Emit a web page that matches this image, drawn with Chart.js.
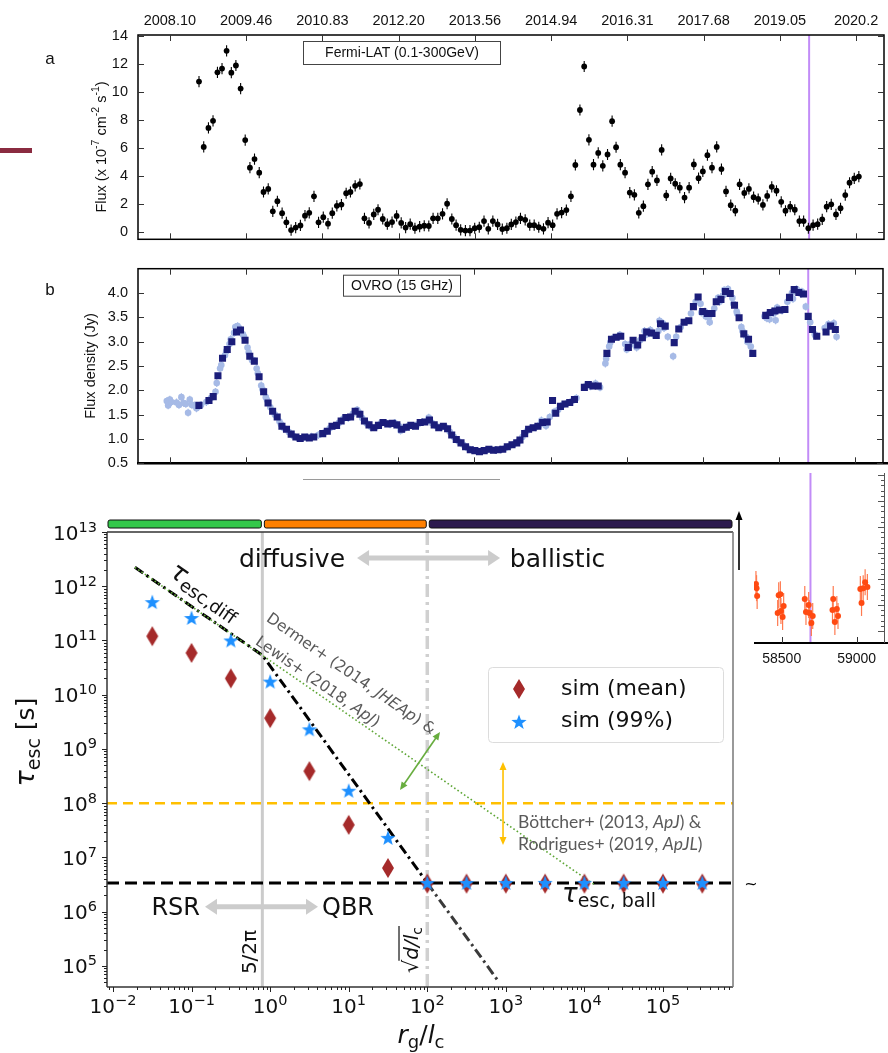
<!DOCTYPE html>
<html>
<head>
<meta charset="utf-8">
<script src="https://cdn.jsdelivr.net/npm/chart.js@4.4.1/dist/chart.umd.min.js"></script>
<style>
  html, body { margin: 0; padding: 0; background: #fff; width: 888px; height: 1053px; overflow: hidden; }
  .pane { position: absolute; }
  canvas { display: block; }
</style>
</head>
<body>
<div class="pane" style="left:0px;top:0px"><canvas id="cA" width="888" height="258"></canvas></div>
<div class="pane" style="left:0px;top:250px"><canvas id="cB" width="888" height="232"></canvas></div>
<div class="pane" style="left:740px;top:460px"><canvas id="cC" width="148" height="220"></canvas></div>
<div class="pane" style="left:0px;top:478px"><canvas id="cD" width="760" height="575"></canvas></div>
<script>
// ---------- time axis (MJD) shared by the light-curve panels ----------
const X_MIN = 54291, X_MAX = 59183;
const MJD_TICKS = [54500, 55000, 55500, 56000, 56500, 57000, 57500, 58000, 58500, 59000];
const YEAR_LABELS = ['2008.10', '2009.46', '2010.83', '2012.20', '2013.56', '2014.94', '2016.31', '2017.68', '2019.05', '2020.2'];
const MARK_MJD = 58692;

// ---------- Fermi-LAT monthly flux (1e-7 ph cm^-2 s^-1) ----------
const FERMI_MJD = [
  54691, 54722, 54753, 54783, 54812, 54842, 54872, 54903, 54933, 54964,
  54994, 55025, 55055, 55086, 55114, 55145, 55175, 55205, 55236, 55264,
  55295, 55325, 55356, 55386, 55414, 55445, 55475, 55506, 55537, 55565,
  55595, 55625, 55656, 55684, 55715, 55746, 55776, 55806, 55837, 55865,
  55896, 55926, 55957, 55987, 56017, 56046, 56076, 56107, 56138, 56168,
  56198, 56226, 56257, 56288, 56318, 56349, 56377, 56407, 56438, 56468,
  56499, 56529, 56560, 56588, 56618, 56649, 56680, 56710, 56739, 56769,
  56799, 56830, 56860, 56889, 56919, 56950, 56980, 57010, 57039, 57069,
  57100, 57130, 57159, 57189, 57217, 57248, 57278, 57309, 57339, 57370,
  57400, 57426, 57454, 57485, 57516, 57546, 57575, 57605, 57635, 57663,
  57694, 57725, 57755, 57784, 57814, 57844, 57875, 57905, 57936, 57967,
  57995, 58025, 58055, 58086, 58117, 58147, 58178, 58208, 58236, 58267,
  58297, 58328, 58358, 58389, 58417, 58447, 58478, 58509, 58537, 58568,
  58598, 58628, 58656, 58687, 58718, 58748, 58778, 58807, 58837, 58868,
  58898, 58929, 58957, 58988, 59018];
const FERMI_FLUX = [
  10.74, 6.07, 7.43, 7.94, 11.4, 11.67, 12.94, 11.38, 11.89, 10.24,
  6.56, 4.59, 5.2, 4.23, 2.85, 3.07, 1.47, 2.19, 1.34, 0.68,
  0.13, 0.31, 0.46, 1.16, 1.36, 2.54, 0.68, 1.05, 0.59, 1.34,
  1.86, 1.95, 2.76, 2.85, 3.29, 3.42, 0.97, 0.64, 1.25, 1.58,
  0.92, 0.55, 0.70, 1.14, 0.64, 0.31, 0.55, 0.26, 0.37, 0.44,
  0.42, 0.97, 0.97, 1.29, 2.01, 0.92, 0.48, 0.15, 0.09, 0.09,
  0.26, 0.33, 0.77, 0.22, 0.77, 0.53, 0.20, 0.26, 0.53, 0.70,
  0.97, 0.86, 0.48, 0.48, 0.33, 0.22, 0.66, 0.48, 1.29, 1.38,
  1.56, 2.54, 4.78, 8.71, 11.82, 6.58, 4.8, 5.64, 4.72, 5.53,
  7.91, 6.05, 4.8, 4.23, 2.81, 2.65, 1.36, 1.84, 3.4, 4.3,
  3.68, 5.86, 2.6, 3.82, 3.44, 3.16, 2.45, 3.16, 4.82, 3.84,
  4.32, 5.48, 4.59, 6.07, 4.49, 2.89, 1.91, 1.51, 3.4, 2.78,
  3.07, 2.48, 2.35, 1.93, 2.57, 3.22, 2.94, 2.15, 1.51, 1.80,
  1.58, 0.77, 0.77, 0.26, 0.48, 0.55, 0.9, 1.80, 1.97, 1.25,
  1.69, 2.63, 3.51, 3.82, 3.95];
const FERMI_ERR = 0.4;
const FERMI_YTICKS = [0, 2, 4, 6, 8, 10, 12, 14];

// ---------- OVRO 15 GHz: binned (squares) ----------
const OVRO_BIN_MJD = [
  54691, 54757, 54785, 54816, 54846, 54877, 54907, 54938, 54964, 54994,
  55025, 55055, 55086, 55116, 55145, 55175, 55205, 55236, 55266, 55297,
  55328, 55356, 55386, 55416, 55445, 55504, 55534, 55565, 55595, 55625,
  55656, 55687, 55717, 55748, 55778, 55808, 55839, 55870, 55900, 55931,
  55961, 55991, 56022, 56053, 56083, 56113, 56144, 56174, 56205, 56236,
  56266, 56296, 56324, 56351, 56381, 56412, 56442, 56473, 56503, 56533,
  56564, 56595, 56625, 56656, 56686, 56716, 56747, 56778, 56799, 56830,
  56856, 56886, 56917, 56948, 56978, 57013, 57034, 57065, 57095, 57126,
  57157, 57222, 57248, 57278, 57313, 57370, 57400, 57431, 57461, 57511,
  57542, 57572, 57603, 57631, 57663, 57694, 57722, 57753, 57812, 57842,
  57877, 57908, 57938, 57969, 57999, 58029, 58060, 58088, 58119, 58149,
  58180, 58208, 58238, 58269, 58300, 58328, 58413, 58443, 58473, 58504,
  58539, 58569, 58600, 58630, 58661, 58692, 58720, 58748, 58809, 58839,
  58870];
const OVRO_BIN_FLUX = [
  1.69, 1.79, 1.87, 2.30, 2.66, 2.84, 3.00, 3.20, 3.24, 3.03,
  2.70, 2.60, 2.28, 1.97, 1.74, 1.57, 1.45, 1.26, 1.20, 1.10,
  1.04, 1.01, 1.04, 1.02, 1.04, 1.11, 1.16, 1.26, 1.28, 1.37,
  1.44, 1.45, 1.57, 1.51, 1.37, 1.29, 1.23, 1.28, 1.34, 1.31,
  1.32, 1.29, 1.20, 1.24, 1.28, 1.26, 1.34, 1.35, 1.39, 1.29,
  1.23, 1.26, 1.21, 1.08, 0.99, 0.92, 0.84, 0.78, 0.76, 0.74,
  0.76, 0.79, 0.77, 0.78, 0.79, 0.84, 0.88, 0.92, 0.98, 1.11,
  1.20, 1.23, 1.26, 1.34, 1.35, 1.79, 1.53, 1.67, 1.72, 1.75,
  1.81, 2.06, 2.12, 2.09, 2.09, 2.76, 3.05, 3.09, 3.11, 2.88,
  3.03, 2.93, 3.08, 3.20, 3.18, 3.13, 3.37, 3.32, 2.98, 3.26,
  3.40, 3.43, 3.72, 3.92, 3.62, 3.58, 3.58, 3.82, 3.87, 4.03,
  3.99, 3.75, 3.49, 3.16, 3.05, 2.76, 3.54, 3.60, 3.63, 3.65,
  3.66, 3.91, 4.07, 4.01, 3.98, 3.52, 3.25, 3.11, 3.20, 3.32,
  3.25];

// ---------- OVRO 15 GHz: individual measurements ----------
const OVRO_RAW_MJD = [
  54480, 54489, 54500, 54510, 54544, 54560, 54576, 54590, 54605, 54620,
  54631, 54645, 54663, 54675, 54685, 54705, 54740, 54770, 54800, 54808,
  54830, 54838, 54862, 54870, 54892, 54900, 54922, 54930, 54945, 54955,
  54980, 54987, 55010, 55018, 55040, 55048, 55070, 55078, 55100, 55108,
  55130, 55138, 55160, 55190, 55220, 55230, 55250, 55282, 55312, 55342,
  55371, 55400, 55430, 55475, 55490, 55520, 55550, 55580, 55610, 55640,
  55672, 55702, 55730, 55740, 55763, 55793, 55823, 55855, 55885, 55915,
  55946, 55976, 56006, 56015, 56038, 56068, 56098, 56128, 56159, 56190,
  56200, 56220, 56251, 56281, 56310, 56338, 56366, 56396, 56427, 56457,
  56488, 56518, 56548, 56580, 56610, 56640, 56671, 56701, 56731, 56762,
  56790, 56815, 56843, 56871, 56901, 56932, 56940, 56963, 56970, 56995,
  57024, 57050, 57080, 57110, 57141, 57170, 57235, 57263, 57295, 57325,
  57360, 57365, 57385, 57392, 57415, 57446, 57455, 57490, 57500, 57525,
  57557, 57565, 57588, 57617, 57625, 57647, 57655, 57678, 57708, 57715,
  57737, 57745, 57770, 57805, 57825, 57855, 57890, 57922, 57953, 57985,
  57990, 58014, 58020, 58040, 58045, 58075, 58100, 58110, 58132, 58140,
  58160, 58165, 58194, 58200, 58222, 58225, 58253, 58260, 58285, 58292,
  58315, 58405, 58420, 58430, 58438, 58458, 58465, 58478, 58488, 58495,
  58520, 58555, 58585, 58592, 58615, 58623, 58645, 58650, 58676, 58705,
  58735, 58740, 58800, 58825, 58852, 58860, 58878];
const OVRO_RAW_FLUX = [
  1.78, 1.69, 1.81, 1.76, 1.75, 1.70, 1.86, 1.74, 1.72, 1.54,
  1.81, 1.70, 1.69, 1.63, 1.66, 1.70, 1.76, 1.84, 1.97, 2.15,
  2.45, 2.52, 2.72, 2.80, 2.95, 3.05, 3.18, 3.30, 3.32, 3.28,
  3.15, 3.10, 2.88, 2.78, 2.62, 2.62, 2.45, 2.35, 2.10, 2.02,
  1.86, 1.80, 1.65, 1.50, 1.36, 1.30, 1.22, 1.14, 1.06, 1.02,
  1.02, 1.03, 1.05, 1.08, 1.10, 1.14, 1.22, 1.27, 1.33, 1.42,
  1.43, 1.52, 1.60, 1.55, 1.43, 1.32, 1.24, 1.25, 1.32, 1.33,
  1.30, 1.33, 1.26, 1.17, 1.21, 1.27, 1.27, 1.30, 1.35, 1.37,
  1.44, 1.33, 1.26, 1.24, 1.24, 1.15, 1.04, 0.95, 0.88, 0.81,
  0.77, 0.75, 0.75, 0.77, 0.78, 0.77, 0.78, 0.81, 0.86, 0.90,
  0.95, 1.04, 1.16, 1.22, 1.24, 1.30, 1.38, 1.35, 1.27, 1.45,
  1.56, 1.60, 1.70, 1.74, 1.78, 1.84, 2.10, 2.08, 2.14, 2.06,
  2.55, 2.65, 2.90, 2.98, 3.08, 3.10, 3.14, 2.95, 2.84, 2.95,
  2.92, 2.88, 3.03, 3.22, 3.14, 3.17, 3.24, 3.15, 3.22, 3.43,
  3.38, 3.28, 3.10, 2.70, 3.10, 3.30, 3.42, 3.58, 3.82, 3.78,
  3.60, 3.62, 3.52, 3.50, 3.40, 3.68, 3.90, 3.82, 3.95, 4.06,
  4.00, 4.08, 3.90, 3.78, 3.62, 3.58, 3.30, 3.22, 3.10, 3.00,
  2.90, 3.52, 3.48, 3.57, 3.46, 3.62, 3.58, 3.44, 3.70, 3.66,
  3.64, 3.82, 4.00, 3.88, 4.08, 4.05, 3.98, 4.03, 3.72, 3.40,
  3.15, 3.12, 3.28, 3.36, 3.33, 3.38, 3.10];
const OVRO_RAW_ERR = 0.08;
const OVRO_YTICKS = [0.5, 1.0, 1.5, 2.0, 2.5, 3.0, 3.5, 4.0];

// ---------- inset light curve (arbitrary units) ----------
const INSET_MJD = [58328, 58332, 58336, 58473, 58480, 58491, 58495, 58506, 58513, 58654,
  58662, 58680, 58685, 58698, 58707, 58839, 58844, 58855, 58868, 58876,
  59025, 59033, 59044, 59057, 59072];
const INSET_VAL = [1.81, 1.65, 1.35, 0.69, 1.38, 1.42, 0.77, 0.54, 0.96, 1.23,
  0.73, 1.00, 0.69, 0.31, 0.58, 0.81, 1.23, 0.35, 0.85, 0.58,
  1.62, 1.08, 1.65, 1.88, 1.69];
const INSET_ERR = 0.5;

// ---------- escape time vs rigidity ----------
const RG_OVER_LC = [0.0316, 0.1, 0.316, 1, 3.16, 10, 31.6, 100, 316, 1000, 3160, 1e4, 3.16e4, 1e5, 3.16e5];
const TAU_SIM_MEAN = [1.2e11, 5.9e10, 2.0e10, 3.7e9, 3.9e8, 4.0e7, 6.4e6, 3.3e6, 3.3e6, 3.3e6, 3.3e6, 3.3e6, 3.3e6, 3.3e6, 3.3e6];
const TAU_SIM_99 = [5.1e11, 2.6e11, 1.0e11, 1.75e10, 2.3e9, 1.7e8, 2.3e7, 3.4e6, 3.4e6, 3.4e6, 3.4e6, 3.4e6, 3.4e6, 3.4e6, 3.4e6];
const TAU_DIFF_X = [0.019, 0.796, 100];
const TAU_DIFF_Y = [2.23e12, 5.35e10, 3.4e6];
const TAU_DIFF_EXT_X = [100, 776];
const TAU_DIFF_EXT_Y = [3.4e6, 5.6e4];
const LIT_DIFF_X = [0.019, 13200];
const LIT_DIFF_Y = [2.23e12, 3.2e6];
const TAU_BALL = 3.4e6;
const LIT_BALL = 1e8;
const RSR_QBR_EDGE = 0.796;   // 5/2pi
const SQRT_D_LC = 100;
const RG_MIN = 0.00839, RG_MAX = 7.78e5, TAU_MIN = 4.1e4, TAU_MAX = 1e13;

// ---------- helpers ----------
const VIOLET = '#c28cf7';
const SANS = '"Liberation Sans", Arial, sans-serif';
const DJ = '"DejaVu Sans", sans-serif';
Chart.defaults.font.family = SANS;
Chart.defaults.color = '#111';

function line(ctx, x1, y1, x2, y2) { ctx.beginPath(); ctx.moveTo(x1, y1); ctx.lineTo(x2, y2); ctx.stroke(); }
function rich(ctx, parts, x, y, align) {
  ctx.textAlign = 'left';
  let w = 0;
  const ws = parts.map(p => { ctx.font = p[1]; const m = ctx.measureText(p[0]).width; w += m; return m; });
  let cx = align === 'center' ? x - w / 2 : align === 'right' ? x - w : x;
  parts.forEach((p, i) => { ctx.font = p[1]; ctx.fillText(p[0], cx, y + (p[2] || 0)); cx += ws[i]; });
  return w;
}
function head(ctx, x, y, ang, len, wid) {
  const c = Math.cos(ang), s = Math.sin(ang);
  ctx.beginPath(); ctx.moveTo(x, y);
  ctx.lineTo(x - len * c + wid / 2 * s, y - len * s - wid / 2 * c);
  ctx.lineTo(x - len * c - wid / 2 * s, y - len * s + wid / 2 * c);
  ctx.closePath(); ctx.fill();
}
function dblArrow(ctx, x1, y1, x2, y2, lw, len, wid, col) {
  const ang = Math.atan2(y2 - y1, x2 - x1), c = Math.cos(ang), s = Math.sin(ang);
  ctx.strokeStyle = col; ctx.fillStyle = col; ctx.lineWidth = lw;
  line(ctx, x1 + len * 0.8 * c, y1 + len * 0.8 * s, x2 - len * 0.8 * c, y2 - len * 0.8 * s);
  head(ctx, x2, y2, ang, len, wid); head(ctx, x1, y1, ang + Math.PI, len, wid);
}
function diamondPath(g, cx, cy, w, h) { g.beginPath(); g.moveTo(cx, cy - h / 2); g.lineTo(cx + w / 2, cy); g.lineTo(cx, cy + h / 2); g.lineTo(cx - w / 2, cy); g.closePath(); }
function starPath(g, cx, cy, R, r) { g.beginPath(); for (let i = 0; i < 10; i++) { const a = -Math.PI / 2 + i * Math.PI / 5, rr = i % 2 ? r : R; g.lineTo(cx + rr * Math.cos(a), cy + rr * Math.sin(a)); } g.closePath(); }
function markerCanvas(w, h, draw) { const cv = document.createElement('canvas'); cv.width = w; cv.height = h; draw(cv.getContext('2d')); return cv; }
const DIAMOND = markerCanvas(14, 22, g => { g.fillStyle = '#a52a2a'; diamondPath(g, 7, 11, 12, 20); g.fill(); });
const STAR = markerCanvas(18, 18, g => { g.fillStyle = '#1e90ff'; starPath(g, 9, 9.6, 8, 3.3); g.fill(); });

// inward ticks and frame for the light-curve panels
function lcFrame(c, yTicks, bottomWidth) {
  const { ctx, chartArea: a, scales: { x, y } } = c;
  ctx.save();
  ctx.strokeStyle = '#000'; ctx.lineWidth = 1.5;
  ctx.strokeRect(a.left, a.top, a.right - a.left, a.bottom - a.top);
  if (bottomWidth) { ctx.lineWidth = bottomWidth; line(ctx, a.left - 1, a.bottom, c.width, a.bottom); }
  ctx.strokeStyle = '#333'; ctx.lineWidth = 1;
  MJD_TICKS.forEach(t => {
    const px = Math.round(x.getPixelForValue(t)) + 0.5;
    line(ctx, px, a.top, px, a.top + 6); line(ctx, px, a.bottom, px, a.bottom - 6);
  });
  yTicks.forEach(v => {
    const py = Math.round(y.getPixelForValue(v)) + 0.5;
    line(ctx, a.left, py, a.left + 6, py); line(ctx, a.right, py, a.right - 6, py);
  });
  ctx.restore();
}
function markLine(c) {
  const { ctx, chartArea: a, scales: { x } } = c;
  const vx = x.getPixelForValue(MARK_MJD);
  ctx.save(); ctx.strokeStyle = VIOLET; ctx.lineWidth = 2; line(ctx, vx, a.top, vx, a.bottom); ctx.restore();
}
function errBars(c, xs, ys, err, col, lw) {
  const { ctx, chartArea: a, scales: { x, y } } = c;
  ctx.save(); ctx.beginPath(); ctx.rect(a.left, a.top, a.right - a.left, a.bottom - a.top); ctx.clip();
  ctx.strokeStyle = col; ctx.lineWidth = lw;
  xs.forEach((t, i) => { const px = x.getPixelForValue(t); line(ctx, px, y.getPixelForValue(ys[i] - err), px, y.getPixelForValue(ys[i] + err)); });
  ctx.restore();
}
const baseOpts = { responsive: false, animation: false, events: [], plugins: { legend: { display: false }, tooltip: { enabled: false } } };
const noGrid = { display: false, drawTicks: false };

// ---------- panel a : Fermi-LAT ----------
new Chart(document.getElementById('cA'), {
  type: 'scatter',
  data: { datasets: [{ data: FERMI_MJD.map((t, i) => ({ x: t, y: FERMI_FLUX[i] })), pointRadius: 2.9, pointBackgroundColor: '#000', pointBorderWidth: 0 }] },
  options: { ...baseOpts, layout: { padding: { left: 0, right: 1, top: 0, bottom: 1 } },
    scales: {
      x: { type: 'linear', position: 'top', min: X_MIN, max: X_MAX,
        afterBuildTicks: s => { s.ticks = MJD_TICKS.map(v => ({ value: v })); },
        afterFit: s => { s.height = 35; },
        ticks: { callback: (v, i) => YEAR_LABELS[i], font: { size: 14.5 }, padding: 5, maxRotation: 0, autoSkip: false },
        grid: noGrid, border: { display: false } },
      y: { min: -0.53, max: 14.07,
        afterBuildTicks: s => { s.ticks = FERMI_YTICKS.map(v => ({ value: v })); },
        afterFit: s => { s.width = 138; },
        ticks: { font: { size: 14.5 }, padding: 10 },
        grid: noGrid, border: { display: false } } } },
  plugins: [{
    id: 'panelA',
    beforeDatasetsDraw(c) { markLine(c); errBars(c, FERMI_MJD, FERMI_FLUX, FERMI_ERR, '#000', 1.1); },
    afterDraw(c) {
      lcFrame(c, FERMI_YTICKS, 0);
      const ctx = c.ctx, a = c.chartArea;
      ctx.save();
      // band label
      ctx.strokeStyle = '#444'; ctx.lineWidth = 1; ctx.strokeRect(303.5, a.top + 6.5, 197, 23);
      ctx.fillStyle = '#111'; ctx.font = '14px ' + SANS; ctx.textAlign = 'center'; ctx.textBaseline = 'middle';
      ctx.fillText('Fermi-LAT (0.1-300GeV)', 402, a.top + 18.5);
      ctx.font = '17px ' + SANS; ctx.fillText('a', 50, 59);
      // axis title
      ctx.translate(106, 147); ctx.rotate(-Math.PI / 2); ctx.textBaseline = 'alphabetic';
      const f = '14.5px ' + SANS, fs = '10.5px ' + SANS;
      rich(ctx, [['Flux (x 10', f], ['-7', fs, -7], [' cm', f], ['-2', fs, -7], [' s', f], ['-1', fs, -7], [')', f]], 0, 0, 'center');
      ctx.restore();
      // short rule at the left margin
      ctx.save(); ctx.fillStyle = '#8a2b40'; ctx.fillRect(0, 148, 32, 5); ctx.restore();
    }
  }]
});

// ---------- panel b : OVRO ----------
new Chart(document.getElementById('cB'), {
  type: 'scatter',
  data: { datasets: [
    { data: OVRO_BIN_MJD.map((t, i) => ({ x: t, y: OVRO_BIN_FLUX[i] })), pointStyle: 'rect', pointRadius: 5, pointBackgroundColor: '#1b1d7a', pointBorderWidth: 0, order: 0 },
    { data: OVRO_RAW_MJD.map((t, i) => ({ x: t, y: OVRO_RAW_FLUX[i] })), pointRadius: 3.3, pointBackgroundColor: '#a6bae6', pointBorderWidth: 0, order: 1 }
  ] },
  options: { ...baseOpts, layout: { padding: { left: 0, right: 1, top: 7, bottom: 7 } },
    scales: {
      x: { type: 'linear', display: false, min: X_MIN, max: X_MAX },
      y: { min: 0.5, max: 4.5,
        afterBuildTicks: s => { s.ticks = OVRO_YTICKS.map(v => ({ value: v })); },
        afterFit: s => { s.width = 138; },
        ticks: { font: { size: 14.5 }, padding: 10, callback: v => Number(v).toFixed(1) },
        grid: noGrid, border: { display: false } } } },
  plugins: [{
    id: 'panelB',
    beforeDatasetsDraw(c) { markLine(c); errBars(c, OVRO_RAW_MJD, OVRO_RAW_FLUX, OVRO_RAW_ERR, '#a6bae6', 1.2); },
    afterDraw(c) {
      lcFrame(c, OVRO_YTICKS, 2.5);
      const ctx = c.ctx, a = c.chartArea;
      ctx.save();
      ctx.strokeStyle = '#444'; ctx.lineWidth = 1; ctx.strokeRect(343.5, a.top + 6.5, 117, 21);
      ctx.fillStyle = '#111'; ctx.font = '14px ' + SANS; ctx.textAlign = 'center'; ctx.textBaseline = 'middle';
      ctx.fillText('OVRO (15 GHz)', 402, a.top + 17);
      ctx.font = '17px ' + SANS; ctx.fillText('b', 50, a.top + 22);
      ctx.translate(95, (a.top + a.bottom) / 2); ctx.rotate(-Math.PI / 2); ctx.textBaseline = 'alphabetic';
      ctx.font = '14.5px ' + SANS; ctx.fillText('Flux density (Jy)', 0, 0);
      ctx.restore();
    }
  }]
});

// ---------- inset light curve ----------
new Chart(document.getElementById('cC'), {
  type: 'scatter',
  data: { datasets: [{ data: INSET_MJD.map((t, i) => ({ x: t, y: INSET_VAL[i] })), pointRadius: 3, pointBackgroundColor: '#ff4a12', pointBorderWidth: 0 }] },
  options: { ...baseOpts, layout: { padding: { left: 14, right: 1, top: 13, bottom: 0 } },
    scales: {
      x: { type: 'linear', position: 'bottom', min: 58315, max: X_MAX,
        afterBuildTicks: s => { s.ticks = [58500, 59000].map(v => ({ value: v })); },
        afterFit: s => { s.height = 37; },
        ticks: { font: { size: 14 }, padding: 8, maxRotation: 0, autoSkip: false, callback: v => String(v) },
        grid: noGrid, border: { display: false } },
      y: { display: false, min: -0.46, max: 6.08 } } },
  plugins: [{
    id: 'panelC',
    beforeDatasetsDraw(c) { markLine(c); errBars(c, INSET_MJD, INSET_VAL, INSET_ERR, '#ff7a50', 1.2); },
    afterDraw(c) {
      const { ctx, chartArea: a, scales: { x, y } } = c;
      ctx.save();
      ctx.strokeStyle = '#000'; ctx.lineWidth = 2; line(ctx, a.left, a.bottom, c.width, a.bottom);
      ctx.lineWidth = 1; ctx.strokeStyle = '#333';
      [58500, 59000].forEach(t => { const px = Math.round(x.getPixelForValue(t)) + 0.5; line(ctx, px, a.bottom, px, a.bottom - 6); });
      ctx.strokeStyle = '#555'; line(ctx, a.right + 0.5, a.top, a.right + 0.5, a.bottom);
      for (let k = 0; k <= 30; k++) {
        const v = k * 0.2; if (v > 6.05) break;
        const py = Math.round(y.getPixelForValue(v)) + 0.5;
        line(ctx, a.right, py, a.right - (k % 5 === 0 ? 6 : 3), py);
      }
      ctx.restore();
    }
  }]
});

// ---------- panel c : escape time ----------
const xy = (xs, ys) => xs.map((v, i) => ({ x: v, y: ys[i] }));
const lineDs = (data, col, w, dash, order) => ({ data, showLine: true, pointRadius: 0, borderColor: col, borderWidth: w, borderDash: dash, fill: false, tension: 0, order });
new Chart(document.getElementById('cD'), {
  type: 'scatter',
  data: { datasets: [
    lineDs([{ x: RSR_QBR_EDGE, y: TAU_MIN }, { x: RSR_QBR_EDGE, y: TAU_MAX }], '#cbcbcb', 3, [], 20),
    lineDs([{ x: SQRT_D_LC, y: TAU_MIN }, { x: SQRT_D_LC, y: TAU_MAX }], '#d0d0d0', 3.5, [13, 5, 3, 5], 19),
    lineDs([{ x: RG_MIN, y: LIT_BALL }, { x: RG_MAX, y: LIT_BALL }], '#ffbf00', 2.5, [10, 6], 18),
    lineDs([{ x: RG_MIN, y: TAU_BALL }, { x: RG_MAX, y: TAU_BALL }], '#000', 3, [12, 6], 17),
    lineDs(xy(TAU_DIFF_EXT_X, TAU_DIFF_EXT_Y), '#3a3a3a', 3, [10, 4, 2.5, 4], 16),
    lineDs(xy(TAU_DIFF_X, TAU_DIFF_Y), '#000', 3, [10, 4, 2.5, 4], 15),
    lineDs(xy(LIT_DIFF_X, LIT_DIFF_Y), '#5ea636', 1.6, [1.6, 2.4], 14),
    { data: xy(RG_OVER_LC, TAU_SIM_MEAN), pointStyle: DIAMOND, pointRadius: 8, order: 2 },
    { data: xy(RG_OVER_LC, TAU_SIM_99), pointStyle: STAR, pointRadius: 8, order: 1 }
  ] },
  options: { ...baseOpts, layout: { padding: { left: 107, right: 27, top: 54, bottom: 66 } },
    scales: {
      x: { type: 'logarithmic', display: false, min: RG_MIN, max: RG_MAX },
      y: { type: 'logarithmic', display: false, min: TAU_MIN, max: TAU_MAX } } },
  plugins: [{
    id: 'panelD',
    beforeDraw(c) {
      const ctx = c.ctx; ctx.save();
      ctx.fillStyle = '#fff'; ctx.fillRect(0, 0, 745, c.height);
      ctx.strokeStyle = '#9a9a9a'; ctx.lineWidth = 1; line(ctx, 303, 1.5, 500, 1.5);
      ctx.restore();
    },
    afterDraw(c) {
      const { ctx, chartArea: a, scales: { x: xs, y: ys } } = c;
      const X = v => xs.getPixelForValue(v), Y = v => ys.getPixelForValue(v);
      const P = (lx, ly) => [X(10 ** lx), Y(10 ** ly)];
      ctx.save();

      // regime bars above the frame
      const xb1 = X(RSR_QBR_EDGE), xb2 = X(SQRT_D_LC);
      [[a.left + 1, xb1 - 1, '#33c84a'], [xb1 + 2, xb2 - 1, '#ff8000'], [xb2 + 2, a.right - 1, '#2c1a4e']].forEach(([l, r, col]) => {
        ctx.beginPath(); ctx.roundRect(l, a.top - 12, r - l, 8, 2);
        ctx.fillStyle = col; ctx.fill(); ctx.lineWidth = 1; ctx.strokeStyle = '#111'; ctx.stroke();
      });

      // frame
      ctx.lineWidth = 1.5; ctx.strokeStyle = '#333';
      line(ctx, a.left, a.top, a.right, a.top); line(ctx, a.left, a.top, a.left, a.bottom); line(ctx, a.left, a.bottom, a.right, a.bottom);
      ctx.strokeStyle = '#777'; line(ctx, a.right, a.top, a.right, a.bottom);

      // log ticks
      ctx.strokeStyle = '#222'; ctx.lineWidth = 1;
      for (let e = -3; e <= 6; e++) for (let m = 1; m < 10; m++) {
        const v = m * 10 ** e; if (v < xs.min || v > xs.max) continue;
        const px = Math.round(X(v)) + 0.5; line(ctx, px, a.bottom, px, a.bottom + (m === 1 ? 5 : 3));
      }
      for (let e = 4; e <= 13; e++) for (let m = 1; m < 10; m++) {
        const v = m * 10 ** e; if (v < ys.min || v > ys.max * 1.0001) continue;
        const py = Math.round(Y(v)) + 0.5; line(ctx, a.left, py, a.left - (m === 1 ? 5 : 3), py);
      }

      // tick labels
      ctx.fillStyle = '#111'; ctx.textBaseline = 'alphabetic';
      const fB = '20px ' + DJ, fE = '14.5px ' + DJ;
      const expStr = e => (e < 0 ? '\u2212' : '') + Math.abs(e);
      for (let e = 5; e <= 13; e++) {
        const py = Y(10 ** e);
        rich(ctx, [['10', fB], [expStr(e), fE, -8]], a.left - 10, py + 7.5, 'right');
      }
      for (let e = -2; e <= 5; e++) {
        rich(ctx, [['10', fB], [expStr(e), fE, -8]], X(10 ** e), a.bottom + 26, 'center');
      }

      // axis titles
      rich(ctx, [['r', 'italic 25px ' + DJ], ['g', '18px ' + DJ, 5], ['/', '25px ' + DJ], ['l', 'italic 25px ' + DJ], ['c', '18px ' + DJ, 5]], 421, a.bottom + 56, 'center');
      ctx.save(); ctx.translate(a.left - 73, a.top + 210); ctx.rotate(-Math.PI / 2);
      rich(ctx, [['\u03c4', 'italic 27px ' + DJ], ['esc', '19px ' + DJ, 6], [' [s]', '25px ' + DJ]], 0, 0, 'center');
      ctx.restore();

      // regime arrows and words
      let p, q;
      p = P(1.106, 12.52); q = P(2.926, 12.52);
      dblArrow(ctx, p[0], p[1], q[0], q[1], 5, 12, 16, '#cccccc');
      p = P(-0.829, 6.09); q = P(0.609, 6.09);
      dblArrow(ctx, p[0], p[1], q[0], q[1], 5, 12, 16, '#cccccc');
      ctx.fillStyle = '#111';
      ctx.font = '25px ' + DJ;
      p = P(0.953, 12.355); ctx.textAlign = 'right'; ctx.fillText('diffusive', p[0], p[1]);
      p = P(3.05, 12.355); ctx.textAlign = 'left'; ctx.fillText('ballistic', p[0], p[1]);
      ctx.font = '24px ' + DJ;
      p = P(-0.893, 5.94); ctx.textAlign = 'right'; ctx.fillText('RSR', p[0], p[1]);
      p = P(0.66, 5.94); ctx.textAlign = 'left'; ctx.fillText('QBR', p[0], p[1]);

      // labels of the vertical markers
      p = P(-0.18, 5.258);
      ctx.save(); ctx.translate(p[0], p[1]); ctx.rotate(-Math.PI / 2);
      ctx.font = '20px ' + DJ; ctx.textAlign = 'center'; ctx.fillText('5/2\u03c0', 0, 0);
      ctx.restore();
      p = P(1.882, 5.295);
      ctx.save(); ctx.translate(p[0], p[1]); ctx.rotate(-Math.PI / 2);
      const wRad = rich(ctx, [['\u221a', '21px ' + DJ], ['d/l', 'italic 20px ' + DJ], ['c', '14px ' + DJ, 4]], 0, 0, 'center');
      ctx.font = '21px ' + DJ; const wSq = ctx.measureText('\u221a').width;
      ctx.strokeStyle = '#111'; ctx.lineWidth = 1.2; line(ctx, -wRad / 2 + wSq - 1, -19, wRad / 2 + 1, -19);
      ctx.restore();

      // line labels
      const ang = Math.atan2(Y(1e5) - Y(1e6), X(10) - X(1));
      p = P(-0.829, 11.894);
      ctx.save(); ctx.translate(p[0], p[1]); ctx.rotate(ang); ctx.fillStyle = '#111';
      rich(ctx, [['\u03c4', 'italic 26px ' + DJ], ['esc,diff', '18px ' + DJ, 5]], 0, 7, 'center');
      ctx.restore();
      p = P(3.715, 6.18); ctx.fillStyle = '#111';
      rich(ctx, [['\u03c4', 'italic 26px ' + DJ], ['esc, ball', '19px ' + DJ, 5]], p[0], p[1], 'left');

      // literature references
      ctx.fillStyle = '#5a5a5a';
      const fr = '15.5px ' + DJ, fi = 'italic 15.5px ' + DJ;
      ctx.save(); p = P(-0.03, 11.43); ctx.translate(p[0], p[1]); ctx.rotate(ang); ctx.textBaseline = 'middle';
      rich(ctx, [['Dermer+ (2014, ', fr], ['JHEAp', fi], [') &', fr]], 0, 0, 'left'); ctx.restore();
      ctx.save(); p = P(-0.17, 11.0); ctx.translate(p[0], p[1]); ctx.rotate(ang); ctx.textBaseline = 'middle';
      rich(ctx, [['Lewis+ (2018, ', fr], ['ApJ', fi], [')', fr]], 0, 0, 'left'); ctx.restore();
      const fl = '17.5px Lato, sans-serif', fli = 'italic 17.5px Lato, sans-serif';
      p = P(3.155, 7.545); rich(ctx, [['B\u00f6ttcher+ (2013, ', fl], ['ApJ', fli], [') &', fl]], p[0], p[1], 'left');
      p = P(3.155, 7.14); rich(ctx, [['Rodrigues+ (2019, ', fl], ['ApJL', fli], [')', fl]], p[0], p[1], 'left');

      // reference ranges
      p = P(1.653, 8.244); q = P(2.162, 9.313);
      dblArrow(ctx, p[0], p[1], q[0], q[1], 1.6, 8, 7, '#68ad3f');
      p = P(2.964, 8.76); q = P(2.964, 7.23);
      dblArrow(ctx, p[0], p[1], q[0], q[1], 1.6, 8, 7, '#ffc000');

      // legend
      const lx = a.right - 245, ly = a.top + 135;
      ctx.beginPath(); ctx.roundRect(lx + 0.5, ly + 0.5, 235, 75, 4);
      ctx.fillStyle = 'rgba(255,255,255,0.85)'; ctx.fill(); ctx.strokeStyle = '#dcdcdc'; ctx.lineWidth = 1; ctx.stroke();
      ctx.fillStyle = '#a52a2a'; diamondPath(ctx, lx + 31, ly + 22, 12, 20); ctx.fill();
      ctx.fillStyle = '#1e90ff'; starPath(ctx, lx + 31, ly + 55.5, 8, 3.3); ctx.fill();
      ctx.fillStyle = '#111'; ctx.font = '22px ' + DJ; ctx.textAlign = 'left'; ctx.textBaseline = 'middle';
      ctx.fillText('sim (mean)', lx + 73, ly + 22);
      ctx.fillText('sim (99%)', lx + 73, ly + 54);

      // marker arrow at the right edge and the tilde
      ctx.fillStyle = '#000'; ctx.strokeStyle = '#000'; ctx.lineWidth = 1.6;
      line(ctx, a.right + 6, a.top + 38, a.right + 6, a.top - 14);
      head(ctx, a.right + 6, a.top - 21, -Math.PI / 2, 9, 7);
      ctx.font = '16px ' + DJ; ctx.textBaseline = 'middle'; ctx.textAlign = 'center';
      ctx.fillText('~', a.right + 18, Y(10 ** 6.49));
      ctx.restore();
    }
  }]
});
</script>
</body>
</html>
